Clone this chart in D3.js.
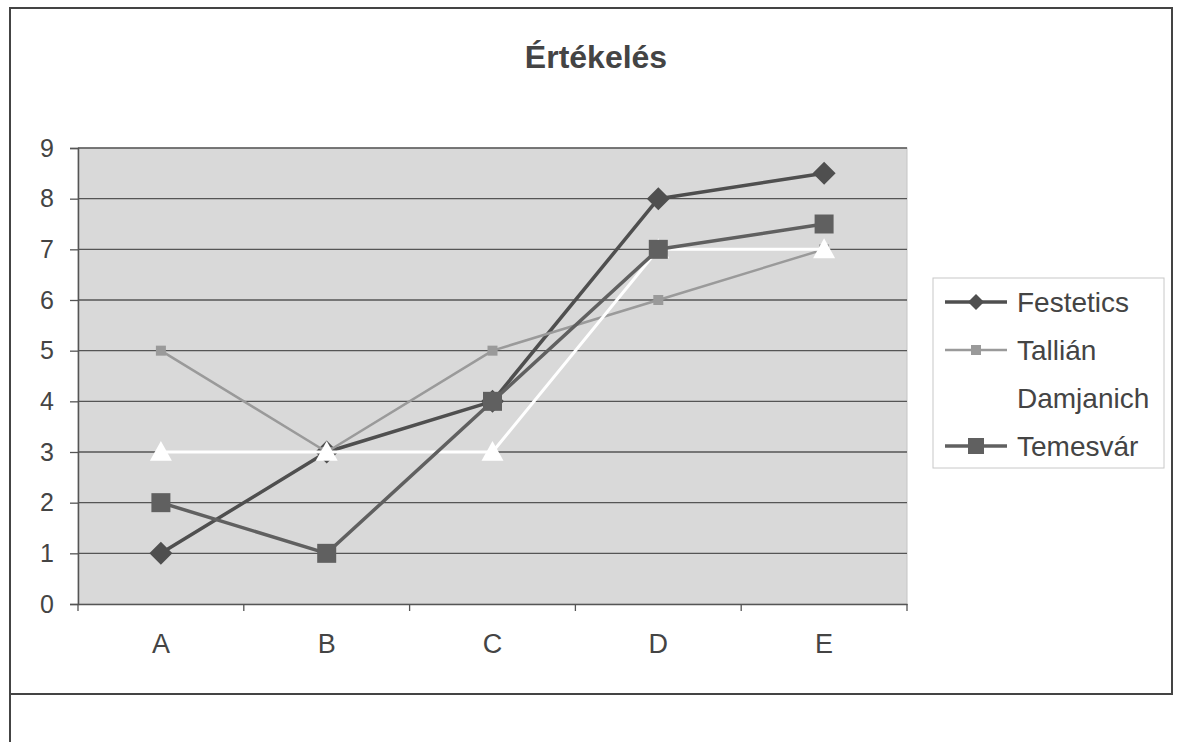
<!DOCTYPE html>
<html>
<head>
<meta charset="utf-8">
<script src="https://cdn.jsdelivr.net/npm/d3@7/dist/d3.min.js"></script>
<style>
  html, body { margin: 0; padding: 0; background: #fff; }
  svg { display: block; font-family: "Liberation Sans", Arial, sans-serif; }
</style>
</head>
<body>
<svg id="chart" width="1194" height="742"></svg>
<script>
const title = "Értékelés";
const categories = ["A", "B", "C", "D", "E"];
const yTicks = [0, 1, 2, 3, 4, 5, 6, 7, 8, 9];
const seriesNames = ["Festetics", "Tallián", "Damjanich", "Temesvár"];
const festetics = [1, 3, 4, 8, 8.5];
const tallian = [5, 3, 5, 6, 7];
const damjanich = [3, 3, 3, 7, 7];
const temesvar = [2, 1, 4, 7, 7.5];

(function () {
const styles = {
  "Festetics": { color: "#4f4f4f", width: 3.5, marker: "diamond", size: 23 },
  "Tallián":   { color: "#9a9a9a", width: 2.5, marker: "square", size: 10 },
  "Damjanich": { color: "#ffffff", width: 3, marker: "triangle", size: 22 },
  "Temesvár":  { color: "#606060", width: 3.5, marker: "square", size: 19 }
};
const seriesData = [festetics, tallian, damjanich, temesvar];

const svg = d3.select("#chart");

// outer chart frame
svg.append("rect").attr("x", 10).attr("y", 8).attr("width", 1162).attr("height", 686)
  .attr("fill", "none").attr("stroke", "#444").attr("stroke-width", 2);
svg.append("line").attr("x1", 10).attr("x2", 10).attr("y1", 694).attr("y2", 742)
  .attr("stroke", "#444").attr("stroke-width", 2);

const pL = 78, pR = 907, pT = 148, pB = 604;
const x = d3.scaleBand().domain(categories).range([pL, pR]).padding(0);
const y = d3.scaleLinear().domain([0, 9]).range([pB, pT]);

// plot area
svg.append("rect").attr("x", pL).attr("y", pT).attr("width", pR - pL).attr("height", pB - pT)
  .attr("fill", "#d9d9d9").attr("stroke", "#c4c4c4").attr("stroke-width", 1);

// gridlines
svg.append("g").selectAll("line").data(yTicks.filter(d => d > 0)).join("line")
  .attr("x1", pL).attr("x2", pR)
  .attr("y1", d => y(d)).attr("y2", d => y(d))
  .attr("stroke", "#555").attr("stroke-width", 1.3);

// y axis
const yAxis = svg.append("g").attr("transform", `translate(${pL},0)`)
  .call(d3.axisLeft(y).tickValues(yTicks).tickSize(8).tickPadding(16).tickFormat(d3.format("d")));
yAxis.select(".domain").attr("stroke", "#555").attr("stroke-width", 1.5);
yAxis.selectAll(".tick line").attr("stroke", "#555").attr("stroke-width", 1.3);
yAxis.selectAll(".tick text").attr("font-size", 25).attr("fill", "#444")
  .attr("font-family", "Liberation Sans, Arial, sans-serif");

// x axis
const xAxis = svg.append("g").attr("transform", `translate(0,${pB})`)
  .call(d3.axisBottom(x).tickSize(0).tickPadding(30));
xAxis.select(".domain").attr("stroke", "#555").attr("stroke-width", 1.5);
xAxis.selectAll(".tick text").attr("font-size", 27).attr("fill", "#444")
  .attr("font-family", "Liberation Sans, Arial, sans-serif");
const bounds = categories.map(c => x(c)).concat([x(categories[categories.length - 1]) + x.bandwidth()]);
svg.append("g").selectAll("line").data(bounds).join("line")
  .attr("x1", d => d).attr("x2", d => d).attr("y1", pB).attr("y2", pB + 7)
  .attr("stroke", "#555").attr("stroke-width", 1.3);

function markerPath(type, size) {
  const h = size / 2;
  if (type === "diamond") return `M0,${-h}L${h},0L0,${h}L${-h},0Z`;
  if (type === "square") return `M${-h},${-h}H${h}V${h}H${-h}Z`;
  if (type === "triangle") return `M0,${-h}L${h},${h * 0.8}L${-h},${h * 0.8}Z`;
}

const cx = c => x(c) + x.bandwidth() / 2;
const line = d3.line().x((d, i) => cx(categories[i])).y(d => y(d));

seriesNames.forEach((name, si) => {
  const st = styles[name];
  const vals = seriesData[si];
  const g = svg.append("g");
  g.append("path").datum(vals).attr("d", line)
    .attr("fill", "none").attr("stroke", st.color).attr("stroke-width", st.width)
    .attr("stroke-linejoin", "round");
  g.selectAll("path.m").data(vals).join("path").attr("class", "m")
    .attr("transform", (d, i) => `translate(${cx(categories[i])},${y(d)})`)
    .attr("d", markerPath(st.marker, st.size))
    .attr("fill", st.color);
});

// title
svg.append("text").attr("x", 596).attr("y", 68).attr("text-anchor", "middle")
  .attr("font-size", 32).attr("font-weight", "bold").attr("fill", "#444").text(title);

// legend
const lg = svg.append("g");
lg.append("rect").attr("x", 933).attr("y", 278).attr("width", 231).attr("height", 190)
  .attr("fill", "#fff").attr("stroke", "#c8c8c8").attr("stroke-width", 1);
const legendY = [302, 350, 398, 446];
seriesNames.forEach((name, i) => {
  const st = styles[name];
  const yy = legendY[i];
  lg.append("line").attr("x1", 945).attr("x2", 1007).attr("y1", yy).attr("y2", yy)
    .attr("stroke", st.color).attr("stroke-width", st.width);
  lg.append("path").attr("transform", `translate(976,${yy})`)
    .attr("d", markerPath(st.marker, Math.min(st.size, 16)))
    .attr("fill", st.color);
  lg.append("text").attr("x", 1017).attr("y", yy).attr("dy", "0.35em")
    .attr("font-size", 28).attr("fill", "#444").text(name);
});
})();
</script>
</body>
</html>
